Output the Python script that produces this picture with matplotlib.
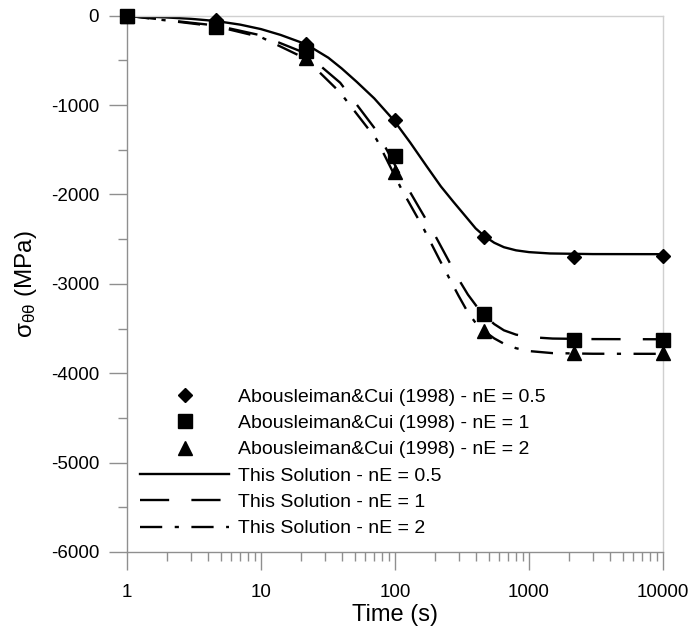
import matplotlib
matplotlib.use('Agg')
import matplotlib.pyplot as plt
from matplotlib.ticker import LogLocator, MultipleLocator, FixedLocator, NullFormatter

plt.rcParams['font.family'] = ['Liberation Sans', 'DejaVu Sans']
plt.rcParams['mathtext.fontset'] = 'custom'
plt.rcParams['mathtext.rm'] = 'Liberation Sans'
plt.rcParams['mathtext.it'] = 'Liberation Sans'
plt.rcParams['lines.scale_dashes'] = False
plt.rcParams['axes.unicode_minus'] = False

# Reference data (Abousleiman & Cui 1998)
t_ref = [1, 4.64, 21.5, 100, 464, 2154, 10000]
ref_ne05 = [0, -50, -320, -1170, -2480, -2700, -2690]
ref_ne1 = [0, -130, -400, -1575, -3340, -3625, -3630]
ref_ne2 = [0, -100, -475, -1745, -3530, -3770, -3775]

# This solution curves
t_sol05 = [1, 2, 3, 4.64, 7, 10, 14, 20, 25, 31.8, 40, 51.8, 70, 98, 130, 172, 220, 272, 343, 400, 464,
           550, 650, 800, 1000, 1435, 3000, 10000]
sol_ne05 = [0, -20, -35, -60, -100, -150, -215, -300, -375, -470, -590, -740, -925, -1170, -1420, -1683,
            -1910, -2080, -2260, -2380, -2465, -2540, -2590, -2625, -2645, -2660, -2667, -2668]

t_sol1 = [1, 4.64, 10, 21.5, 39, 73, 112, 149, 188, 298, 350, 406, 464, 550, 650, 800, 1000, 1500, 3000, 10000]
sol_ne1 = [0, -110, -220, -420, -750, -1290, -1810, -2130, -2389, -2947, -3120, -3250, -3350, -3450, -3520,
           -3568, -3595, -3612, -3618, -3620]

t_sol2 = [1, 4.64, 10, 21.5, 39, 73, 112, 162, 217, 298, 350, 406, 464, 550, 650, 800, 1000, 1500, 3000, 10000]
sol_ne2 = [0, -120, -240, -480, -860, -1386, -1943, -2370, -2742, -3133, -3320, -3450, -3530, -3610, -3670,
           -3720, -3752, -3775, -3782, -3783]

labels_ref = ['Abousleiman&Cui (1998) - nE = 0.5',
              'Abousleiman&Cui (1998) - nE = 1',
              'Abousleiman&Cui (1998) - nE = 2']
labels_sol = ['This Solution - nE = 0.5',
              'This Solution - nE = 1',
              'This Solution - nE = 2']

fig = plt.figure(figsize=(6.93, 6.30), dpi=100)
ax = fig.add_axes([127/693, 78/630, 536/693, 536.3/630])

lw = 1.7
l1, = ax.plot(t_sol05, sol_ne05, color='black', lw=lw, linestyle='-', label=labels_sol[0])
l2, = ax.plot(t_sol1, sol_ne1, color='black', lw=lw, linestyle=(0, (21, 16)), label=labels_sol[1])
l3, = ax.plot(t_sol2, sol_ne2, color='black', lw=lw, linestyle=(0, (16, 9, 3, 9)), label=labels_sol[2])

m1, = ax.plot(t_ref, ref_ne05, linestyle='none', marker='D', ms=7.5, color='black', clip_on=False, zorder=5, label=labels_ref[0])
m2, = ax.plot(t_ref, ref_ne1, linestyle='none', marker='s', ms=9.5, color='black', clip_on=False, zorder=5, label=labels_ref[1])
m3, = ax.plot(t_ref, ref_ne2, linestyle='none', marker='^', ms=10.5, color='black', clip_on=False, zorder=5, label=labels_ref[2])

ax.set_xscale('log')
ax.set_xlim(1, 10000)
ax.set_ylim(-6000, 0)
ax.xaxis.set_major_locator(FixedLocator([1, 10, 100, 1000, 10000]))
ax.xaxis.set_minor_locator(LogLocator(base=10, subs=range(2, 10)))
ax.xaxis.set_minor_formatter(NullFormatter())
ax.set_xticklabels(['1', '10', '100', '1000', '10000'])
ax.yaxis.set_major_locator(MultipleLocator(1000))
ax.yaxis.set_minor_locator(MultipleLocator(500))

axis_col = '#8f8f8f'
frame_col = '#d0d0d0'
for s in ['left', 'bottom']:
    ax.spines[s].set_color(axis_col)
    ax.spines[s].set_linewidth(1.0)
for s in ['top', 'right']:
    ax.spines[s].set_color(frame_col)
    ax.spines[s].set_linewidth(1.0)

ax.tick_params(axis='both', which='major', direction='out', length=13, width=1.0, color=axis_col, labelsize=13.5)
ax.tick_params(axis='both', which='minor', direction='out', length=6.5, width=1.0, color=axis_col)
ax.tick_params(axis='x', which='major', pad=10)
ax.tick_params(axis='y', which='major', pad=7)

ax.set_xlabel('Time (s)', fontsize=17)
ax.set_ylabel(r'$\mathregular{\sigma_{\theta\theta}}$ (MPa)', fontsize=17.5)
ax.xaxis.set_label_coords(0.5, -0.097)
ax.yaxis.set_label_coords(-0.165, 0.5)

leg = ax.legend(handles=[m1, m2, m3, l1, l2, l3], loc='upper left',
                bbox_to_anchor=(140/693, 1 - 388/630), bbox_transform=fig.transFigure,
                frameon=False, fontsize=14, handlelength=4.6, handletextpad=0.45,
                labelspacing=0.45, borderpad=0, borderaxespad=0, numpoints=1)

fig.savefig('out.png', dpi=100, facecolor='white')
